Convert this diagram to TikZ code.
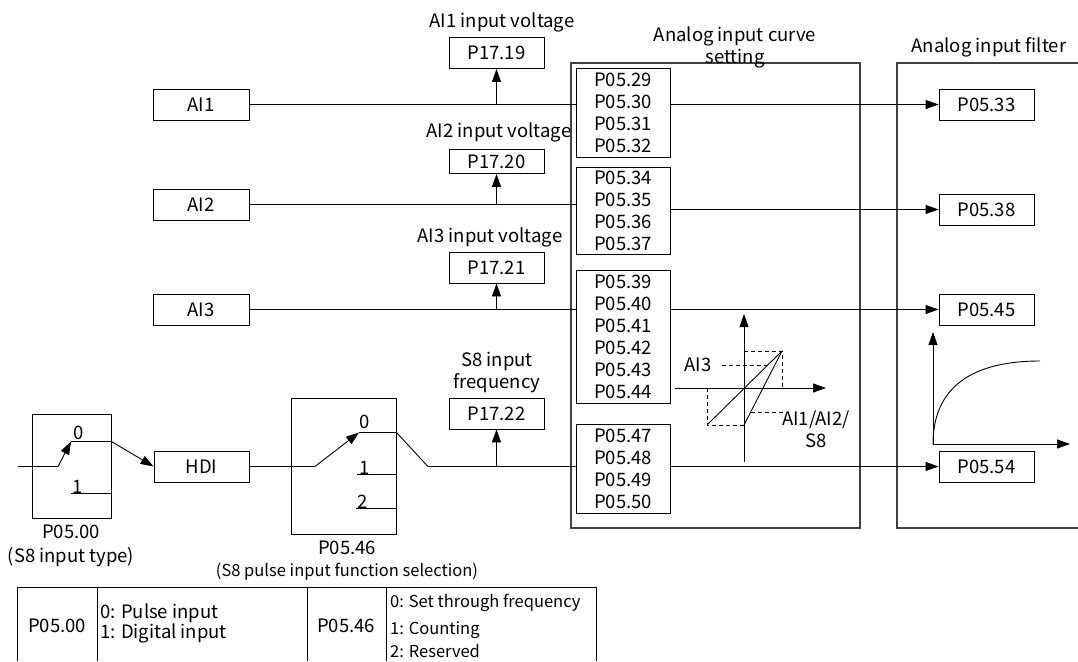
\documentclass[tikz,border=0pt]{standalone}
\usepackage{fontspec}
\setmainfont{Noto Sans CJK SC}
\usepackage{tikz}
\usetikzlibrary{arrows.meta,positioning,calc}

\begin{document}
\begin{tikzpicture}[
  x=1pt, y=-1pt,
  font=\fontsize{18.5}{22}\selectfont,
  every node/.style={align=center, inner sep=0pt},
  pbox/.style={draw, line width=0.9pt, minimum width=95pt, minimum height=31pt},
  plist/.style={draw, line width=0.9pt, minimum width=94pt},
  swbox/.style={draw, line width=0.9pt},
  grpbox/.style={draw=black!75, line width=1.2pt},
  wire/.style={line width=0.9pt},
  flow/.style={line width=0.9pt, -{Triangle[length=13pt,width=9pt]}},
  guide/.style={line width=0.8pt, dash pattern=on 4pt off 3pt},
  small/.style={font=\fontsize{16.5}{20}\selectfont}
]
\useasboundingbox (0,0) rectangle (1078,661);
\node[pbox, minimum width=96pt] (ai1) at (201,104.5) {AI1};
\node[pbox, minimum width=96pt] (ai2) at (201,204.5) {AI2};
\node[pbox, minimum width=96pt] (ai3) at (201,309.5) {AI3};
\node[pbox] (hdi) at (201.5,466.5) {HDI};
\node[swbox, minimum width=79pt, minimum height=104pt] (sw1) at (71.5,466) {};
\node[swbox, minimum width=105pt, minimum height=136pt] (sw2) at (343.5,466) {};
\node (sw1lab) at (71,546) {P05.00\\[2pt](S8 input type)};
\node[font=\fontsize{18.5}{22}\selectfont] (sw2lab) at (347,561) {P05.46\\{\fontsize{16.5}{20}\selectfont(S8 pulse input function selection)}};
\foreach \n/\y/\h in {19/53/31, 20/161.5/24, 21/267.5/31, 22/413.5/31}
  \node[pbox, minimum height=\h pt] (p17\n) at (496.5,\y) {P17.\n};
\node (t1719) at (502,22) {AI1 input voltage};
\node (t1720) at (499,132) {AI2 input voltage};
\node (t1721) at (490,237) {AI3 input voltage};
\node (t1722) at (497,372.5) {S8 input\\frequency};
\draw[grpbox] (571,63) rectangle (860,528);
\node (curvelab) at (735,47) {Analog input curve\\setting};
\draw[grpbox] (1078,63) -| (897,528) -- (1078,528);
\node (filterlab) at (989,47) {Analog input filter};
\node[plist, minimum height=89pt] (l1) at (623,112.5) {P05.29\\P05.30\\P05.31\\P05.32};
\node[plist, minimum height=87pt] (l2) at (623,210.5) {P05.34\\P05.35\\P05.36\\P05.37};
\node[plist, minimum height=133pt] (l3) at (623,336.5) {P05.39\\P05.40\\P05.41\\P05.42\\P05.43\\P05.44};
\node[plist, minimum height=89pt] (l4) at (623,468.5) {P05.47\\P05.48\\P05.49\\P05.50};
\foreach \n/\y in {33/104.5, 38/209.5, 45/309.5, 54/466.5}
  \node[pbox] (f\n) at (986.5,\y) {P05.\n};
\coordinate (s1in) at (18,466.5);
\coordinate (s1piv) at (58,466.5);
\coordinate (s1c0) at (71,441.5);
\coordinate (s1c1) at (71,493.5);
\draw[wire] (s1in) -- (s1piv);
\draw[flow] (s1piv) -- (s1c0);
\draw[wire] (s1c0) -- (s1c0 -| sw1.east);
\draw[wire] (s1c1) -- (s1c1 -| sw1.east);
\node[anchor=base] (s1n0) at (79,439) {0};
\node[anchor=base] (s1n1) at (78,493) {1};
\draw[flow] (s1c0 -| sw1.east) -- (hdi.west);
\coordinate (s2piv) at (315,466.5);
\coordinate (s2c0) at (359,432.5);
\coordinate (s2c1) at (357,474.5);
\coordinate (s2c2) at (356,508.5);
\coordinate (s8) at (428,466.5);
\draw[wire] (hdi.east) -- (s2piv);
\draw[flow] (s2piv) -- (s2c0);
\draw[wire] (s2c1) -- (s2c1 -| sw2.east);
\draw[wire] (s2c2) -- (s2c2 -| sw2.east);
\node[anchor=base] (s2n0) at (365,428) {0};
\node[anchor=base] (s2n1) at (365,474) {1};
\node[anchor=base] (s2n2) at (363,508) {2};
\draw[wire] (s2c0) -- (s2c0 -| sw2.east) -- (s8) -- (s8 -| l4.west);
\draw[wire] (ai1) -- (ai1 -| l1.west);
\draw[wire] (ai2) -- (ai2 -| l2.west);
\draw[wire] (ai3) -- (ai3 -| l3.west);
\draw[flow] (p1719 |- ai1) -- (p1719);
\draw[flow] (p1720 |- ai2) -- (p1720);
\draw[flow] (p1721 |- ai3) -- (p1721);
\draw[flow] (p1722 |- s8) -- (p1722);
\draw[flow] (l1.east |- f33) -- (f33);
\draw[flow] (l2.east |- f38) -- (f38);
\draw[flow] (l3.east |- f45) -- (f45);
\draw[flow] (l4.east |- f54) -- (f54);
\draw[flow] (744,462) -- (744,314);
\draw[flow] (675,388) -- (826,388);
\draw[wire] (707,425) -- (782,351);
\draw[wire] (744,425) -- (782,351);
\draw[guide] (744,351) -- (782,351) -- (782,388);
\draw[guide] (707,388) -- (707,425) -- (744,425);
\draw[guide] (722,365) -- (767,365);
\draw[guide] (751,412) -- (783,412);
\node (gai3) at (698,365) {AI3};
\node (gai12) at (816,429) {AI1/AI2/\\S8};
\draw[flow] (933,444) -- (933,332);
\draw[flow] (933,444) -- (1070,444);
\draw[wire] (933,444) .. controls (933,385) and (975,361) .. (1040,361);
\draw[wire] (17,661) -- (17,587) -- (596,587) -- (596,661);
\foreach \x in {97,307,386} \draw[wire] (\x,587) -- (\x,661);
\node (tp00) at (57,626) {P05.00};
\node[anchor=west, align=left, font=\fontsize{18.5}{20}\selectfont] (tp00v) at (100,623) {0: Pulse input\\1: Digital input};
\node (tp46) at (346,626) {P05.46};
\node[small, anchor=west] (tp46a) at (390,603) {0: Set through frequency};
\node[small, anchor=west] (tp46b) at (390,630) {1: Counting};
\node[small, anchor=west] (tp46c) at (390,651) {2: Reserved};
\end{tikzpicture}
\end{document}
